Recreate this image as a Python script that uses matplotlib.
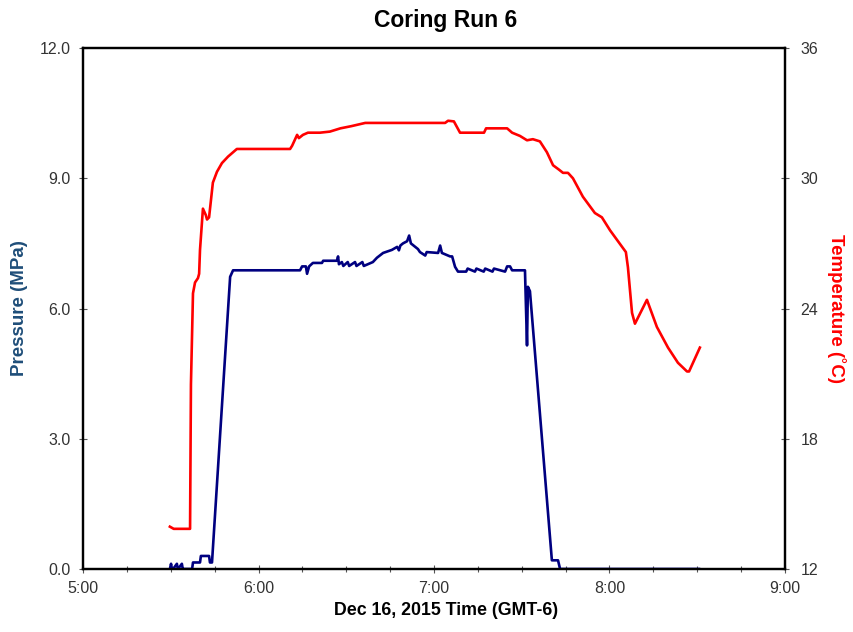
import matplotlib
matplotlib.use("Agg")
import matplotlib.pyplot as plt
from matplotlib.ticker import FuncFormatter, MultipleLocator

# ── Data (minutes after 5:00) ──────────────────────────────────────────────

press_t = [29.7, 30.1, 30.4, 30.8, 32.1, 32.4, 32.5, 33.8, 34.1, 34.2,
           37.3, 37.6, 40.0, 40.3, 43.1, 43.4, 44.1, 50.3, 51.3,
           74.2, 74.9, 76.2, 76.6, 77.3, 78.6, 81.7, 82.1, 86.8, 87.2, 87.5,
           88.5, 89.0, 90.5, 91.0, 93.0, 93.5, 95.5, 96.0, 99.1,
           100.5, 102.6, 105.6, 107.4, 108.0, 108.5, 109.4, 110.8, 111.5,
           112.1, 114.5, 115.2, 117.0, 117.5, 121.4, 122.1, 122.7, 125.5,
           126.2, 127.2, 128.2, 131.0, 131.5, 134.0, 134.5, 137.0, 137.5,
           140.0, 140.5, 144.3, 145.0, 146.0, 146.7, 151.1, 151.8, 152.1,
           152.8, 160.3, 162.4, 163.1, 210.6]
press_p = [0.0, 0.12, 0.0, 0.0, 0.12, 0.0, 0.0, 0.12, 0.0, 0.0,
           0.0, 0.15, 0.15, 0.3, 0.3, 0.15, 0.15, 6.73, 6.88,
           6.88, 6.97, 6.97, 6.80, 6.97, 7.05, 7.05, 7.10, 7.10, 7.20, 7.02,
           7.07, 6.98, 7.07, 6.98, 7.07, 6.98, 7.07, 6.98, 7.07,
           7.17, 7.28, 7.35, 7.42, 7.34, 7.45, 7.50, 7.55, 7.68,
           7.50, 7.37, 7.30, 7.22, 7.30, 7.28, 7.45, 7.28, 7.20,
           7.20, 6.96, 6.85, 6.85, 6.92, 6.85, 6.92, 6.85, 6.92,
           6.85, 6.92, 6.85, 6.97, 6.97, 6.88, 6.88, 5.15, 6.50,
           6.40, 0.2, 0.2, 0.0, 0.0]

temp_t = [29.7, 31.0, 36.6, 36.9, 37.3, 37.6, 38.3, 39.3, 39.7, 40.0,
          41.0, 42.0, 42.4, 43.1, 44.4, 45.8, 47.5, 49.6, 52.6, 70.8,
          71.5, 73.2, 73.8, 75.2, 76.9, 81.0, 84.4, 88.0, 91.7, 96.5,
          123.8, 124.8, 126.8, 128.9, 137.1, 137.8, 145.0, 146.7, 149.4,
          151.8, 153.8, 156.2, 158.6, 160.7, 162.7, 164.1, 165.8, 167.5,
          170.9, 175.0, 177.4, 180.2, 182.9, 185.6, 186.3, 187.7, 188.7,
          192.8, 196.2, 200.0, 203.4, 206.5, 207.2, 210.9]
temp_c = [13.95, 13.85, 13.85, 20.5, 22.9, 24.7, 25.2, 25.4, 25.6, 26.7,
          28.6, 28.3, 28.1, 28.2, 29.8, 30.3, 30.7, 31.0, 31.35, 31.35,
          31.5, 32.0, 31.85, 32.0, 32.1, 32.1, 32.15, 32.3, 32.4, 32.55,
          32.55, 32.65, 32.62, 32.1, 32.1, 32.3, 32.3, 32.1, 31.95,
          31.75, 31.8, 31.7, 31.2, 30.6, 30.4, 30.25, 30.25, 30.0,
          29.15, 28.4, 28.2, 27.6, 27.1, 26.6, 25.9, 23.8, 23.3,
          24.4, 23.15, 22.2, 21.5, 21.1, 21.1, 22.2]

press_ticks = [0, 3, 6, 9, 12]
temp_ticks = [12, 18, 24, 30, 36]

# ── Style ──────────────────────────────────────────────────────────────────

plt.rcParams['font.family'] = ['Liberation Sans', 'DejaVu Sans']
PRESS_COLOR = '#000080'
TEMP_COLOR = '#ff0000'
LABEL_BLUE = '#1f4e79'
TICK_COLOR = '#333333'


def hm(x, pos):
    h = 5 + int(x // 60)
    m = int(round(x % 60))
    return f"{h}:{m:02d}"


fig = plt.figure(figsize=(8.54, 6.32), dpi=100)
ax = fig.add_axes([0.0972, 0.0997, 0.8220, 0.8243])
ax2 = ax.twinx()

ax.plot(press_t, press_p, color=PRESS_COLOR, lw=1.9, zorder=3)
ax2.plot(temp_t, temp_c, color=TEMP_COLOR, lw=1.9, zorder=3)

ax.set_xlim(0, 240)
ax.set_ylim(0, 12)
ax2.set_ylim(12, 36)

ax.xaxis.set_major_locator(MultipleLocator(60))
ax.xaxis.set_minor_locator(MultipleLocator(15))
ax.xaxis.set_major_formatter(FuncFormatter(hm))
ax.set_yticks(press_ticks)
ax.yaxis.set_major_formatter(FuncFormatter(lambda v, p: f"{v:.1f}"))
ax2.set_yticks(temp_ticks)

for a in (ax, ax2):
    for s in a.spines.values():
        s.set_linewidth(1.6)
        s.set_color('black')
    a.tick_params(which='major', direction='inout', length=6, width=0.8,
                  labelsize=11.5, labelcolor=TICK_COLOR, color='#555555')
    a.tick_params(which='minor', direction='inout', length=4, width=0.8,
                  color='#555555')

ax.tick_params(axis='x', pad=6)
ax.tick_params(axis='y', pad=6)
ax2.tick_params(axis='y', pad=8)

ax.set_title("Coring Run 6", fontsize=16.5, fontweight='bold', pad=15,
             x=0.516)
ax.set_xlabel("Dec 16, 2015 Time (GMT-6)", fontsize=12.8, fontweight='bold',
              labelpad=4)
ax.xaxis.label.set_x(0.517)
ax.set_ylabel("Pressure (MPa)", fontsize=13.5, fontweight='bold',
              color=LABEL_BLUE, labelpad=8)
ax2.set_ylabel("Temperature (\u02daC)", fontsize=13.5, fontweight='bold',
               color=TEMP_COLOR, rotation=270, labelpad=20)

fig.savefig("out.png", dpi=100)
